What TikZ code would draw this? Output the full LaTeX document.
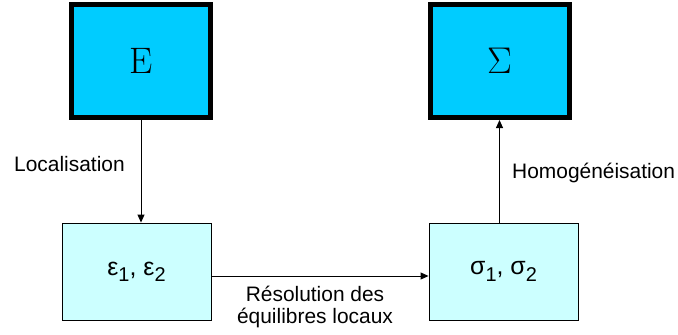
\documentclass[tikz,border=0pt]{standalone}
\usepackage{fontspec}
\setmainfont{Latin Modern Roman}
\newfontfamily\labelfont{Liberation Sans}
\usetikzlibrary{arrows.meta}
\definecolor{bigcyan}{HTML}{00CCFF}
\definecolor{smallcyan}{HTML}{CCFFFF}
\tikzset{
  bigbox/.style={draw=black, line width=5bp, fill=bigcyan, minimum width=139bp, minimum height=113bp, inner sep=0pt, font=\fontsize{37}{40}\selectfont},
  smallbox/.style={draw=black, line width=0.9bp, fill=smallcyan, minimum width=149bp, minimum height=97bp, inner sep=0pt, font=\labelfont\fontsize{25}{28}\selectfont},
  lbl/.style={font=\labelfont\fontsize{21}{25}\selectfont, inner sep=0pt, align=center},
  conn/.style={draw=black, line width=0.9bp, -{Triangle[length=8bp,width=7bp]}}
}
\begin{document}
\begin{tikzpicture}[x=1bp,y=-1bp]
\useasboundingbox (0,0) rectangle (678,334);
\node[bigbox] (E) at (141,61) {\raisebox{-2bp}{E}};
\node[bigbox] (S) at (499.5,61) {\raisebox{-4bp}{\scalebox{1.5}{$\Sigma$}}};
\node[smallbox] (L) at (136.5,271.5) {ε\raisebox{-0.25em}{\fontsize{20}{20}\selectfont 1}, ε\raisebox{-0.25em}{\fontsize{20}{20}\selectfont 2}};
\node[smallbox] (R) at (503.5,271.5) {σ\raisebox{-0.25em}{\fontsize{20}{20}\selectfont 1}, σ\raisebox{-0.25em}{\fontsize{20}{20}\selectfont 2}};
\draw[conn] (E.south) -- (E.south |- L.north);
\draw[conn] (R.north -| S.south) -- (S.south);
\draw[conn] ([yshift=-4.5bp]L.east) -- ([yshift=-4.5bp]L.east -| R.west);
\node[lbl, anchor=west] (t1) at (14,164) {Localisation};
\node[lbl, anchor=west] (t2) at (512,173) {Homogénéisation};
\node[lbl] (t3) at (315,307) {Résolution des\\[-2bp]équilibres locaux};
\end{tikzpicture}
\end{document}
